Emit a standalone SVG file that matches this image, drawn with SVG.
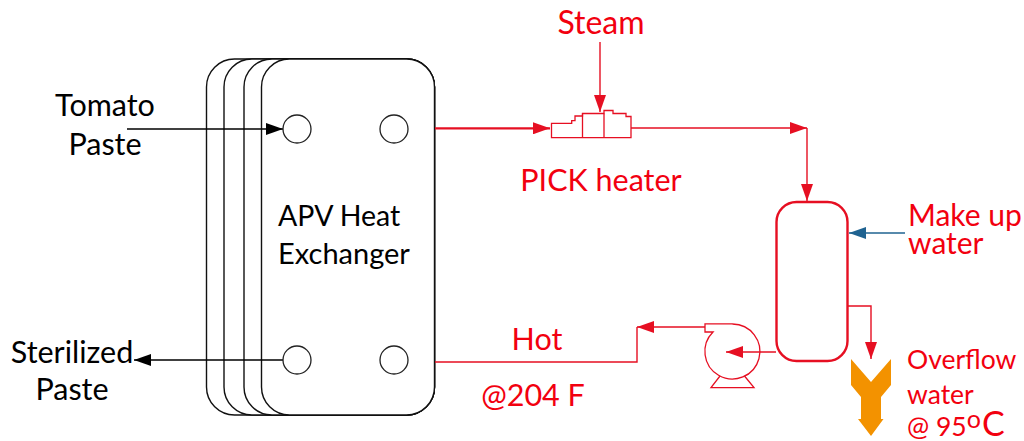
<svg xmlns="http://www.w3.org/2000/svg" width="1024" height="441" viewBox="0 0 1024 441">
<style>
text{font-family:Lato,"Open Sans","Liberation Sans",sans-serif;font-size:30.500px}
.m{text-anchor:middle}
.k{fill:#000}.r{fill:#f2000f}.s{font-size:26.500px}
.plate{fill:#fff;stroke:#111;stroke-width:1.4}
.port{fill:#fff;stroke:#222;stroke-width:1.3}
.bl{fill:none;stroke:#000;stroke-width:1.4}
.rd{fill:none;stroke:#e60f22;stroke-width:1.4}
.eq{fill:none;stroke:#e60f22;stroke-width:1.3}
</style>
<defs>
<marker id="ab" markerUnits="userSpaceOnUse" markerWidth="18" markerHeight="12" refX="17" refY="6" orient="auto"><path d="M0 0L17 6L0 12Z" fill="#000"/></marker>
<marker id="ar" markerUnits="userSpaceOnUse" markerWidth="18" markerHeight="12" refX="17" refY="6" orient="auto"><path d="M0 0L17 6L0 12Z" fill="#e60f22"/></marker>
<marker id="au" markerUnits="userSpaceOnUse" markerWidth="18" markerHeight="12" refX="17" refY="6" orient="auto"><path d="M0 0L17 6L0 12Z" fill="#1f6391"/></marker>
</defs>
<g id="heat-exchanger">
<rect class="plate" x="206.500" y="59" width="228" height="356" rx="28"/>
<rect class="plate" x="224" y="59" width="210.500" height="356" rx="28"/>
<rect class="plate" x="244" y="59" width="190.500" height="356" rx="28"/>
<rect class="plate" x="261.500" y="59" width="173" height="356" rx="28"/>
<text class="k" x="278" y="226" style="font-size:28.500px">APV Heat</text>
<text class="k" x="278" y="264" style="font-size:29px">Exchanger</text>
</g>
<g id="connectors">
<path class="bl" d="M127 129H283" marker-end="url(#ab)"/>
<path class="bl" d="M283 360H134" marker-end="url(#ab)"/>
<path d="M435 128.300H550" fill="none" stroke="#e60f22" stroke-width="2.200" marker-end="url(#ar)"/>
<path class="rd" d="M600 42V112" marker-end="url(#ar)"/>
<path class="rd" d="M631 128H807" marker-end="url(#ar)"/>
<path class="rd" d="M807 128V201" marker-end="url(#ar)"/>
<path d="M905 233H849" fill="none" stroke="#1f6391" stroke-width="1.400" marker-end="url(#au)"/>
<path class="rd" d="M848 306H871V359" marker-end="url(#ar)"/>
<path class="rd" d="M776 352H726" marker-end="url(#ar)"/>
<path class="rd" d="M705 327H637" marker-end="url(#ar)"/>
<path class="rd" d="M637 327V362H435"/>
</g>
<g id="port-1"><circle class="port" cx="297" cy="129" r="14"/></g>
<g id="port-2"><circle class="port" cx="394" cy="129" r="14"/></g>
<g id="port-3"><circle class="port" cx="297" cy="360" r="14"/></g>
<g id="port-4"><circle class="port" cx="394" cy="360" r="14"/></g>
<g id="pick-heater">
<path class="eq" d="M551.500 137.700V123.300H571.700V120.700H575V116H582.500V113.500H604V110.500H613V113.500H626V116.500H631V137.700Z"/>
<path class="eq" d="M582.500 113.500V137.700M604 113.500V137.700"/>
</g>
<g id="tank"><rect x="776.500" y="202" width="71" height="159" rx="20" fill="#fff" stroke="#e60f22" stroke-width="2.400"/></g>
<g id="pump">
<path class="eq" d="M732.500 324A27.500 27.500 0 1 1 713 332H705V323.800H732.500"/>
<path class="eq" d="M720 376L711 387.700H754L744.500 376"/>
</g>
<g id="overflow-drain"><path d="M851 359L871 382L891 359V385L881 397V419H883.500L871 436L858 419H861V397L851 385Z" fill="#f39200"/></g>
<g id="labels">
<text class="k m" x="105" y="116">Tomato</text>
<text class="k m" x="105" y="154.500">Paste</text>
<text class="k m" x="72" y="363">Sterilized</text>
<text class="k m" x="72" y="400">Paste</text>
<text class="r m" x="601" y="34" style="font-size:32px">Steam</text>
<text class="r m" x="601" y="191">PICK heater</text>
<text class="r" x="908" y="226" style="font-size:30px">Make up</text>
<text class="r" x="908" y="254" style="font-size:30px">water</text>
<text class="r m" x="537" y="350">Hot</text>
<text class="r m" x="533" y="406">@204 F</text>
<text class="r s" x="907" y="369">Overflow</text>
<text class="r s" x="907" y="404">water</text>
<text class="r s" x="907" y="436">@ 95<tspan dy="-8" style="font-size:25px">o</tspan><tspan dy="8" dx="1" style="font-size:34px">C</tspan></text>
</g>
</svg>
